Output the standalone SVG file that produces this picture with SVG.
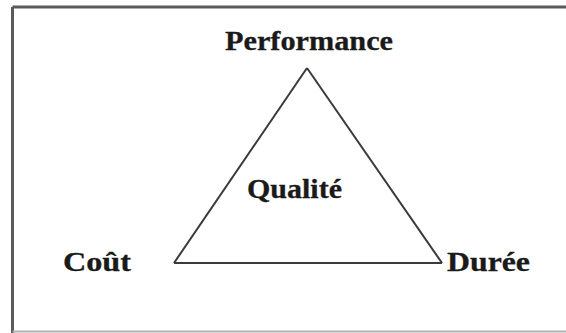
<svg xmlns="http://www.w3.org/2000/svg" width="566" height="333" viewBox="0 0 566 333">
<style>
.lbl{font-family:"Liberation Serif","Times New Roman",serif;font-weight:bold;font-size:27.5px;fill:#1a1a1a;stroke:#1a1a1a;stroke-width:0.3}
.edge{stroke:#3a3a3a;stroke-width:2;fill:none;stroke-linejoin:miter}
</style>
<rect width="566" height="333" fill="#ffffff"/>
<g id="frame">
<line x1="12.5" y1="7" x2="566" y2="7" stroke="#5a5a5a" stroke-width="3"/>
<line x1="12.5" y1="7" x2="12.5" y2="333" stroke="#5a5a5a" stroke-width="3"/>
<line x1="12.5" y1="331.5" x2="566" y2="331.5" stroke="#b0b0b0" stroke-width="2"/>
</g>
<g id="connectors">
<line class="edge" x1="307" y1="68" x2="174" y2="263"/>
<line class="edge" x1="307" y1="68" x2="442" y2="263"/>
<line class="edge" x1="174" y1="263" x2="442" y2="263"/>
</g>
<g id="node-performance"><text class="lbl" x="225" y="50" textLength="168" lengthAdjust="spacingAndGlyphs">Performance</text></g>
<g id="node-qualite"><text class="lbl" x="247" y="198" textLength="95" lengthAdjust="spacingAndGlyphs">Qualité</text></g>
<g id="node-cout"><text class="lbl" x="63" y="271" textLength="68" lengthAdjust="spacingAndGlyphs">Coût</text></g>
<g id="node-duree"><text class="lbl" x="447" y="271" textLength="83" lengthAdjust="spacingAndGlyphs">Durée</text></g>
</svg>
